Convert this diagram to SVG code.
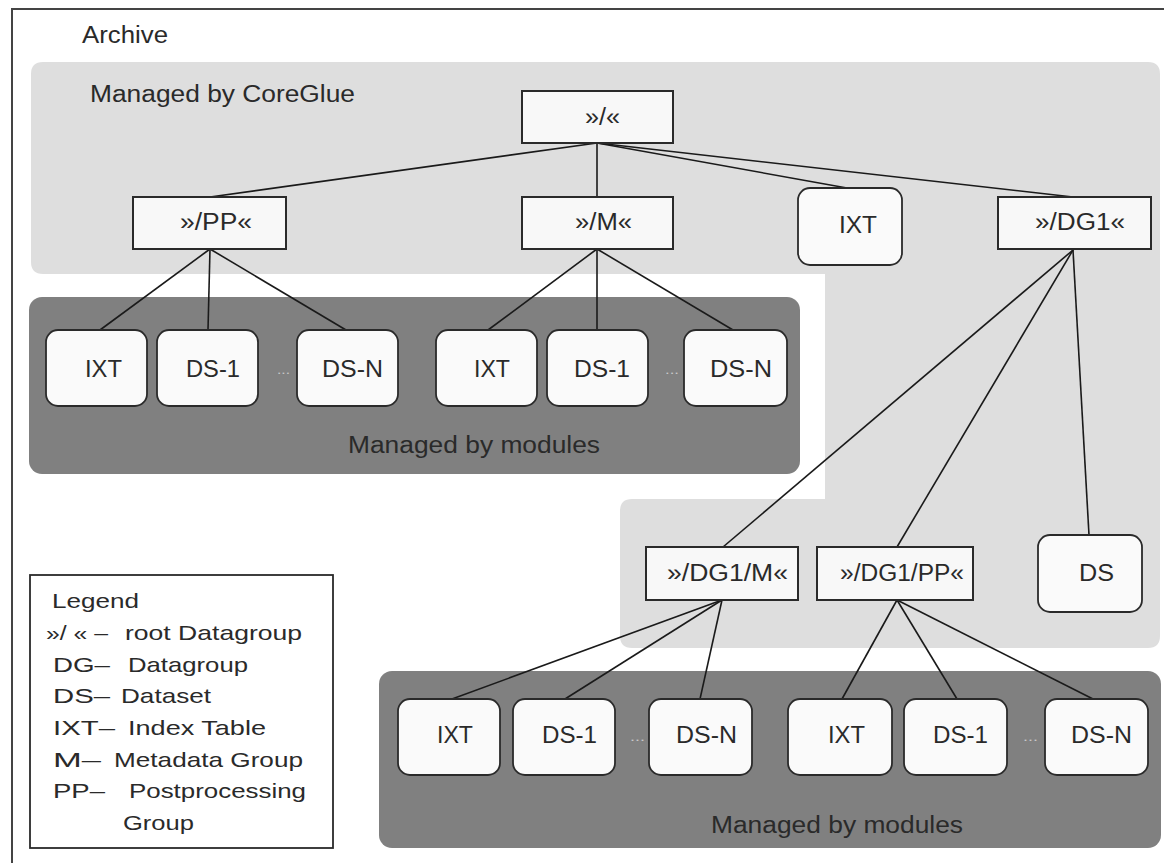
<svg xmlns="http://www.w3.org/2000/svg" width="1164" height="863" viewBox="0 0 1164 863">
<style>
text{font-family:"Liberation Sans",Arial,sans-serif;fill:#2a2a2a;}
.lbl{font-size:23px;}
.leg{font-size:21px;}
.grp{fill:#f8f8f8;stroke:#2a2a2a;stroke-width:2;}
.leaf{fill:#fafafa;stroke:#2a2a2a;stroke-width:1.8;}
.mod{fill:#808080;}
.core{fill:#dedede;}
.dots{font-size:12px;fill:#c8c8c8;}
#connectors line{stroke:#1a1a1a;stroke-width:1.6;}
</style>
<rect width="1164" height="863" fill="#ffffff"/>
<path d="M12,863 V9 H1164" fill="none" stroke="#444" stroke-width="2"/>
<text class="lbl" x="82" y="43" textLength="86" lengthAdjust="spacingAndGlyphs">Archive</text>
<g id="coreglue-area">
<path class="core" d="M43,62 H1148 Q1160,62 1160,74 V636 Q1160,648 1148,648 H632 Q620,648 620,636 V511 Q620,499 632,499 H825 V274 H43 Q31,274 31,262 V74 Q31,62 43,62 Z"/>
<text class="lbl" x="90" y="102" textLength="265" lengthAdjust="spacingAndGlyphs">Managed by CoreGlue</text>
</g>
<g id="modules-area-1">
<rect class="mod" x="29" y="297" width="771" height="177" rx="13"/>
<text class="lbl" x="348" y="453" textLength="252" lengthAdjust="spacingAndGlyphs">Managed by modules</text>
</g>
<g id="modules-area-2">
<rect class="mod" x="379" y="671" width="782" height="177" rx="13"/>
<text class="lbl" x="711" y="833" textLength="252" lengthAdjust="spacingAndGlyphs">Managed by modules</text>
</g>
<g id="connectors">
<line x1="597" y1="143" x2="210" y2="197"/>
<line x1="597" y1="143" x2="597" y2="197"/>
<line x1="597" y1="143" x2="847" y2="188"/>
<line x1="597" y1="143" x2="1073" y2="197"/>
<line x1="210" y1="249" x2="100" y2="330"/>
<line x1="210" y1="249" x2="208" y2="330"/>
<line x1="210" y1="249" x2="346" y2="330"/>
<line x1="597" y1="249" x2="488" y2="330"/>
<line x1="597" y1="249" x2="597" y2="330"/>
<line x1="597" y1="249" x2="733" y2="330"/>
<line x1="1073" y1="250" x2="723" y2="547"/>
<line x1="1073" y1="250" x2="897" y2="547"/>
<line x1="1073" y1="250" x2="1089" y2="535"/>
<line x1="722" y1="600" x2="452" y2="699"/>
<line x1="722" y1="600" x2="565" y2="699"/>
<line x1="722" y1="600" x2="700" y2="699"/>
<line x1="897" y1="600" x2="842" y2="699"/>
<line x1="897" y1="600" x2="957" y2="699"/>
<line x1="897" y1="600" x2="1093" y2="699"/>
</g>
<g id="root"><rect class="grp" x="522" y="91" width="151" height="52"/><text class="lbl" x="585" y="125" textLength="35" lengthAdjust="spacingAndGlyphs">»/«</text></g>
<g id="pp"><rect class="grp" x="133" y="197" width="153" height="52"/><text class="lbl" x="180" y="230" textLength="72" lengthAdjust="spacingAndGlyphs">»/PP«</text></g>
<g id="m"><rect class="grp" x="522" y="197" width="151" height="52"/><text class="lbl" x="575" y="230" textLength="57" lengthAdjust="spacingAndGlyphs">»/M«</text></g>
<g id="ixt-root"><rect class="leaf" x="798" y="188" width="104" height="77" rx="12"/><text class="lbl" x="839" y="233" textLength="38" lengthAdjust="spacingAndGlyphs">IXT</text></g>
<g id="dg1"><rect class="grp" x="998" y="197" width="153" height="52"/><text class="lbl" x="1035" y="230" textLength="90" lengthAdjust="spacingAndGlyphs">»/DG1«</text></g>
<g id="pp-ixt"><rect class="leaf" x="46" y="330" width="101" height="76" rx="12"/><text class="lbl" x="85" y="377" textLength="37" lengthAdjust="spacingAndGlyphs">IXT</text></g>
<g id="pp-ds1"><rect class="leaf" x="157" y="330" width="101" height="76" rx="12"/><text class="lbl" x="186" y="377" textLength="54" lengthAdjust="spacingAndGlyphs">DS-1</text></g>
<text class="dots" x="277" y="374" textLength="13" lengthAdjust="spacingAndGlyphs">...</text>
<g id="pp-dsn"><rect class="leaf" x="297" y="330" width="101" height="76" rx="12"/><text class="lbl" x="322" y="377" textLength="61" lengthAdjust="spacingAndGlyphs">DS-N</text></g>
<g id="m-ixt"><rect class="leaf" x="436" y="330" width="101" height="76" rx="12"/><text class="lbl" x="474" y="377" textLength="36" lengthAdjust="spacingAndGlyphs">IXT</text></g>
<g id="m-ds1"><rect class="leaf" x="547" y="330" width="101" height="76" rx="12"/><text class="lbl" x="574" y="377" textLength="56" lengthAdjust="spacingAndGlyphs">DS-1</text></g>
<text class="dots" x="665" y="374" textLength="14" lengthAdjust="spacingAndGlyphs">...</text>
<g id="m-dsn"><rect class="leaf" x="684" y="330" width="103" height="76" rx="12"/><text class="lbl" x="710" y="377" textLength="62" lengthAdjust="spacingAndGlyphs">DS-N</text></g>
<g id="dg1-m"><rect class="grp" x="646" y="547" width="152" height="53"/><text class="lbl" x="667" y="581" textLength="121" lengthAdjust="spacingAndGlyphs">»/DG1/M«</text></g>
<g id="dg1-pp"><rect class="grp" x="817" y="547" width="156" height="53"/><text class="lbl" x="840" y="581" textLength="124" lengthAdjust="spacingAndGlyphs">»/DG1/PP«</text></g>
<g id="dg1-ds"><rect class="leaf" x="1038" y="535" width="104" height="77" rx="12"/><text class="lbl" x="1079" y="581" textLength="35" lengthAdjust="spacingAndGlyphs">DS</text></g>
<g id="dg1m-ixt"><rect class="leaf" x="398" y="699" width="102" height="76" rx="12"/><text class="lbl" x="437" y="743" textLength="36" lengthAdjust="spacingAndGlyphs">IXT</text></g>
<g id="dg1m-ds1"><rect class="leaf" x="513" y="699" width="102" height="76" rx="12"/><text class="lbl" x="542" y="743" textLength="55" lengthAdjust="spacingAndGlyphs">DS-1</text></g>
<text class="dots" x="630" y="741" textLength="15" lengthAdjust="spacingAndGlyphs">...</text>
<g id="dg1m-dsn"><rect class="leaf" x="649" y="699" width="103" height="76" rx="12"/><text class="lbl" x="676" y="743" textLength="61" lengthAdjust="spacingAndGlyphs">DS-N</text></g>
<g id="dg1pp-ixt"><rect class="leaf" x="788" y="699" width="104" height="76" rx="12"/><text class="lbl" x="828" y="743" textLength="37" lengthAdjust="spacingAndGlyphs">IXT</text></g>
<g id="dg1pp-ds1"><rect class="leaf" x="904" y="699" width="103" height="76" rx="12"/><text class="lbl" x="933" y="743" textLength="55" lengthAdjust="spacingAndGlyphs">DS-1</text></g>
<text class="dots" x="1023" y="741" textLength="15" lengthAdjust="spacingAndGlyphs">...</text>
<g id="dg1pp-dsn"><rect class="leaf" x="1045" y="699" width="103" height="76" rx="12"/><text class="lbl" x="1071" y="743" textLength="61" lengthAdjust="spacingAndGlyphs">DS-N</text></g>
<g id="legend">
<rect x="30" y="575" width="303" height="273" fill="#ffffff" stroke="#2a2a2a" stroke-width="1.8"/>
<text class="leg" x="52" y="608" textLength="87" lengthAdjust="spacingAndGlyphs">Legend</text>
<text class="leg" x="46" y="640" textLength="62" lengthAdjust="spacingAndGlyphs">»/ « –</text>
<text class="leg" x="125" y="640" textLength="177" lengthAdjust="spacingAndGlyphs">root Datagroup</text>
<text class="leg" x="53" y="672" textLength="57" lengthAdjust="spacingAndGlyphs">DG–</text>
<text class="leg" x="128" y="672" textLength="120" lengthAdjust="spacingAndGlyphs">Datagroup</text>
<text class="leg" x="53" y="703" textLength="57" lengthAdjust="spacingAndGlyphs">DS–</text>
<text class="leg" x="121" y="703" textLength="90" lengthAdjust="spacingAndGlyphs">Dataset</text>
<text class="leg" x="53" y="735" textLength="62" lengthAdjust="spacingAndGlyphs">IXT–</text>
<text class="leg" x="128" y="735" textLength="138" lengthAdjust="spacingAndGlyphs">Index Table</text>
<text class="leg" x="53" y="767" textLength="48" lengthAdjust="spacingAndGlyphs">M–</text>
<text class="leg" x="114" y="767" textLength="189" lengthAdjust="spacingAndGlyphs">Metadata Group</text>
<text class="leg" x="53" y="798" textLength="52" lengthAdjust="spacingAndGlyphs">PP–</text>
<text class="leg" x="129" y="798" textLength="177" lengthAdjust="spacingAndGlyphs">Postprocessing</text>
<text class="leg" x="123" y="830" textLength="71" lengthAdjust="spacingAndGlyphs">Group</text>
</g>
</svg>
